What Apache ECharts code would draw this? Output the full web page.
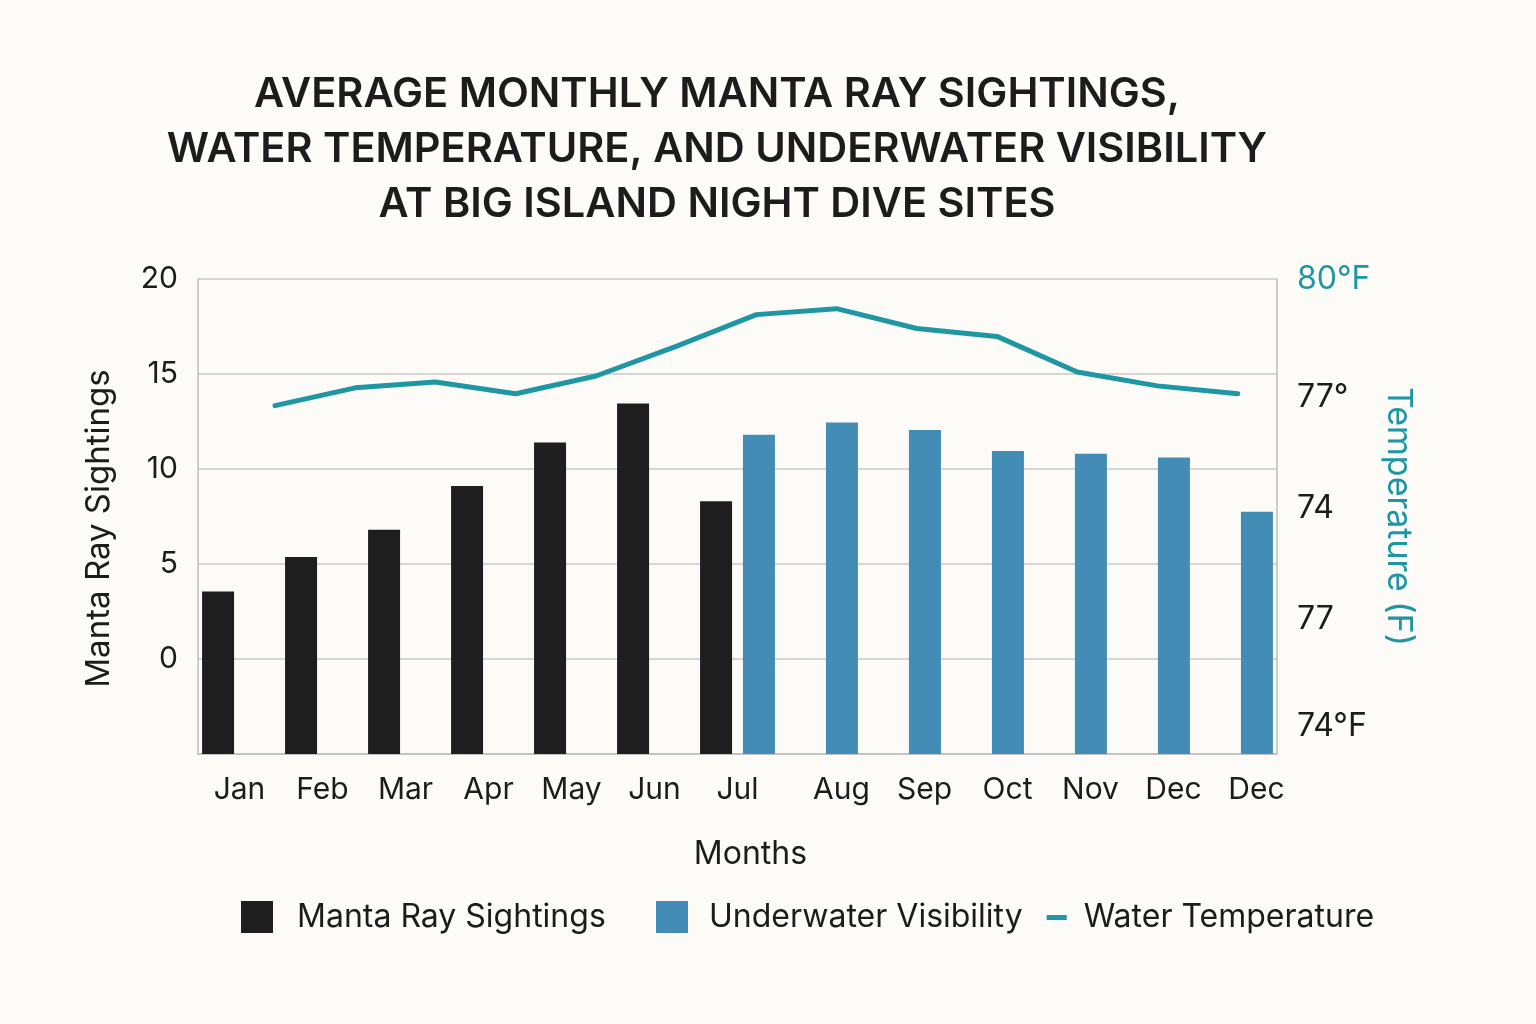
<!DOCTYPE html>
<html>
<head>
<meta charset="utf-8">
<title>Manta Ray Sightings</title>
<script src="https://cdn.jsdelivr.net/npm/echarts@6/dist/echarts.min.js"></script>
<style>
  html, body { margin: 0; padding: 0; background: #fcfbf7; }
  #chart { width: 1536px; height: 1024px; }
</style>
</head>
<body>
<div id="chart"></div>
<script>
// month labels as printed under the bars (the last one really is "Dec" twice)
const months = ['Jan', 'Feb', 'Mar', 'Apr', 'May', 'Jun', 'Jul', 'Aug', 'Sep', 'Oct', 'Nov', 'Dec', 'Dec'];

const sightings = [3.55, 5.37, 6.8, 9.1, 11.4, 13.45, 8.3, null, null, null, null, null, null];
const visibility = [null, null, null, null, null, null, 11.8, 12.45, 12.05, 10.95, 10.8, 10.6, 7.75];
const waterTemp = [76.8, 77.25, 77.4, 77.1, 77.55, 78.3, 79.1, 79.25, 78.75, 78.55, 77.65, 77.3, 77.1];

// left axis runs below zero, right axis ticks are labelled the way the picture labels them
const sightAxisMin = -5;
const sightAxisMax = 20;
const tempTickValues = [80, 77, 74.2, 71.4, 68.7];
const tempTickLabels = ['80°F', '77°', '74', '77', '74°F'];

const FONT = 'Inter';
const DARK = '#1c1c1c';
const TEAL = '#1f96a3';
const GRID = '#c9c9c9';
const BLACK_BAR = { color: '#1e1e1e' };
const BLUE_BAR = { color: '#438cb6' };

// in the picture the bars stand on the bottom of the plot, not on zero,
// so each bar gets a matching piece below zero in the same stack
const below = arr => arr.map(v => (v == null ? null : sightAxisMin));

const legendBase = {
  top: 896,
  itemWidth: 32,
  itemHeight: 32,
  itemGap: 24,
  textStyle: { fontFamily: FONT, fontSize: 32, color: DARK, padding: [0, 0, 0, 19] }
};

const chart = echarts.init(document.getElementById('chart'));

chart.setOption({
  backgroundColor: '#fcfbf7',
  textStyle: { fontFamily: FONT },
  animation: false,
  title: {
    text: 'AVERAGE MONTHLY MANTA RAY SIGHTINGS,\nWATER TEMPERATURE, AND UNDERWATER VISIBILITY\nAT BIG ISLAND NIGHT DIVE SITES',
    left: 712,
    top: 62,
    textAlign: 'center',
    textStyle: {
      fontFamily: FONT,
      fontSize: 41.5,
      fontWeight: 600,
      lineHeight: 55,
      color: DARK
    }
  },
  // two legend blocks so the spacing after the first entry can follow the picture
  legend: [
    Object.assign({}, legendBase, {
      left: 236,
      data: [{ name: 'Manta Ray Sightings', icon: 'rect' }]
    }),
    Object.assign({}, legendBase, {
      left: 651,
      data: [
        { name: 'Underwater Visibility', icon: 'rect', textStyle: { padding: [0, 0, 0, 16] } },
        {
          name: 'Water Temperature',
          icon: 'path://M0,0M32,32M0,14h20v5h-20z',
          itemStyle: { borderWidth: 0 },
          textStyle: { padding: [0, 0, 0, 0] }
        }
      ]
    })
  ],
  grid: { left: 198, right: 259, top: 279, bottom: 270 },
  xAxis: [
    {
      type: 'category',
      data: months,
      name: 'Months',
      nameLocation: 'middle',
      nameGap: 84,
      nameTextStyle: { fontFamily: FONT, fontSize: 32, color: DARK, padding: [0, 0, 0, 26] },
      axisLine: { show: true, onZero: false, lineStyle: { color: '#bdbdbd', width: 1.5 } },
      axisTick: { show: false },
      axisLabel: {
        interval: 0,
        margin: 21,
        fontFamily: FONT,
        fontSize: 30,
        color: DARK,
        // months that only carry a visibility bar sit under that bar
        formatter: (v, i) => (sightings[i] == null && visibility[i] != null) ? '{r|' + v + '}' : v,
        rich: { r: { fontFamily: FONT, fontSize: 30, color: DARK, padding: [0, 0, 0, 42] } }
      }
    },
    {
      // hidden month-index axis for the temperature line, which is drawn
      // a little right of the bar slots in the picture
      type: 'value',
      show: false,
      min: -0.96,
      max: 12.49
    }
  ],
  yAxis: [
    {
      type: 'value',
      min: sightAxisMin,
      max: sightAxisMax,
      interval: 5,
      name: 'Manta Ray Sightings',
      nameLocation: 'middle',
      nameGap: 82,
      nameTextStyle: { fontFamily: FONT, fontSize: 33, color: DARK, padding: [0, 24, 0, 0] },
      axisLine: { show: true, onZero: false, lineStyle: { color: '#bdbdbd', width: 1.5 } },
      axisTick: { show: false },
      splitLine: { lineStyle: { color: GRID, width: 1.5 } },
      axisLabel: {
        margin: 20,
        fontFamily: FONT,
        fontSize: 30,
        color: DARK,
        formatter: v => (v < 0 ? '' : v)
      }
    },
    {
      type: 'value',
      min: 68,
      max: 80,
      position: 'right',
      name: 'Temperature (F)',
      nameLocation: 'middle',
      nameRotate: -90,
      nameGap: 90,
      nameTextStyle: { fontFamily: FONT, fontSize: 34, color: TEAL },
      axisLine: { show: true, onZero: false, lineStyle: { color: '#bdbdbd', width: 1.5 } },
      axisTick: { show: false },
      splitLine: { show: false },
      axisLabel: {
        customValues: tempTickValues,
        margin: 20,
        fontFamily: FONT,
        fontSize: 32,
        color: v => (Number(v) === 80 ? TEAL : DARK),
        formatter: v => tempTickLabels[tempTickValues.indexOf(v)]
      }
    }
  ],
  series: [
    {
      name: 'Manta Ray Sightings',
      type: 'bar',
      stack: 'sightings',
      data: sightings,
      barWidth: 32,
      barGap: '34%',
      itemStyle: BLACK_BAR
    },
    {
      name: 'sightings-below',
      type: 'bar',
      stack: 'sightings',
      data: below(sightings),
      barWidth: 32,
      itemStyle: BLACK_BAR
    },
    {
      name: 'Underwater Visibility',
      type: 'bar',
      stack: 'visibility',
      data: visibility,
      barWidth: 32,
      itemStyle: BLUE_BAR
    },
    {
      name: 'visibility-below',
      type: 'bar',
      stack: 'visibility',
      data: below(visibility),
      barWidth: 32,
      itemStyle: BLUE_BAR
    },
    {
      name: 'Water Temperature',
      type: 'line',
      xAxisIndex: 1,
      yAxisIndex: 1,
      data: waterTemp.map((t, i) => [i, t]),
      symbol: 'none',
      z: 5,
      itemStyle: { color: TEAL },
      lineStyle: { color: TEAL, width: 5, cap: 'round', join: 'round' }
    }
  ]
});
</script>
</body>
</html>
